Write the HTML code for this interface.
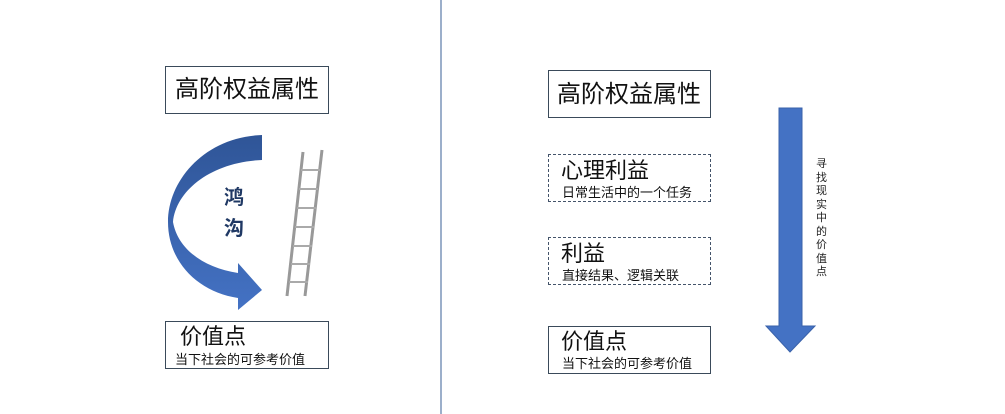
<!DOCTYPE html>
<html><head><meta charset="utf-8"><style>
body{margin:0;width:1005px;height:414px;background:#fff;overflow:hidden;position:relative;font-family:"Liberation Sans","Noto Sans CJK SC",sans-serif;}
.b{position:absolute;box-sizing:border-box;border:1px solid #3a4a5a;background:#fff;color:#111;}
.d{border:1px dashed #44546a;}
.t{position:absolute;white-space:nowrap;line-height:1;}
</style></head><body>
<svg width="1005" height="414" style="position:absolute;left:0;top:0">
<line x1="441" y1="0" x2="441" y2="414" stroke="#5b7aa8" stroke-width="1.2"/>
<defs><linearGradient id="g" x1="0" y1="0" x2="0" y2="1"><stop offset="0" stop-color="#2f5597"/><stop offset="1" stop-color="#4472c4"/></linearGradient></defs>
<path d="M262,135 C205,137 168,180 168,222 C168,262 198,292 238,298 L238,310 L262,290 L238,263 L238,273 C205,268 178,250 173,222 C176,190 212,162 262,160 Z" fill="url(#g)"/>
<g stroke="#999" stroke-width="3">
<line x1="303" y1="152" x2="287" y2="296"/><line x1="322" y1="150" x2="305" y2="296"/>
</g>
<g stroke="#aaa" stroke-width="2">
<line x1="301" y1="170" x2="320" y2="170"/><line x1="299" y1="189" x2="318" y2="189"/><line x1="297" y1="208" x2="316" y2="208"/><line x1="295" y1="227" x2="314" y2="227"/><line x1="293" y1="246" x2="312" y2="246"/><line x1="291" y1="264" x2="310" y2="264"/><line x1="289" y1="282" x2="308" y2="282"/>
</g>
<path d="M779,108 H802 V326 H815 L790,352 L766,326 H779 Z" fill="#4472c4" stroke="#3a62aa" stroke-width="1"/>
</svg>
<div class="t" style="left:224px;top:188px;font-size:20px;font-weight:bold;color:#1f3864">鸿</div>
<div class="t" style="left:224px;top:219px;font-size:20px;font-weight:bold;color:#1f3864">沟</div>

<div class="b" style="left:165px;top:66px;width:164px;height:48px"><div class="t" style="left:9px;top:11px;font-size:24px">高阶权益属性</div></div>
<div class="b" style="left:165px;top:321px;width:164px;height:48px"><div class="t" style="left:14px;top:4px;font-size:22px">价值点</div><div class="t" style="left:9px;top:31px;font-size:13px">当下社会的可参考价值</div></div>

<div class="b" style="left:548px;top:70px;width:163px;height:48px"><div class="t" style="left:8px;top:12px;font-size:24px">高阶权益属性</div></div>
<div class="b d" style="left:548px;top:154px;width:163px;height:48px"><div class="t" style="left:12px;top:5px;font-size:22px">心理利益</div><div class="t" style="left:13px;top:31px;font-size:13px">日常生活中的一个任务</div></div>
<div class="b d" style="left:548px;top:237px;width:163px;height:48px"><div class="t" style="left:12px;top:5px;font-size:22px">利益</div><div class="t" style="left:13px;top:31px;font-size:13px">直接结果、逻辑关联</div></div>
<div class="b" style="left:548px;top:326px;width:163px;height:48px"><div class="t" style="left:12px;top:4px;font-size:22px">价值点</div><div class="t" style="left:13px;top:30px;font-size:13px">当下社会的可参考价值</div></div>

<div class="t" style="left:816px;top:158px;width:12px;font-size:11px;line-height:13.5px;white-space:normal;color:#222">寻找现实中的价值点</div>
</body></html>
